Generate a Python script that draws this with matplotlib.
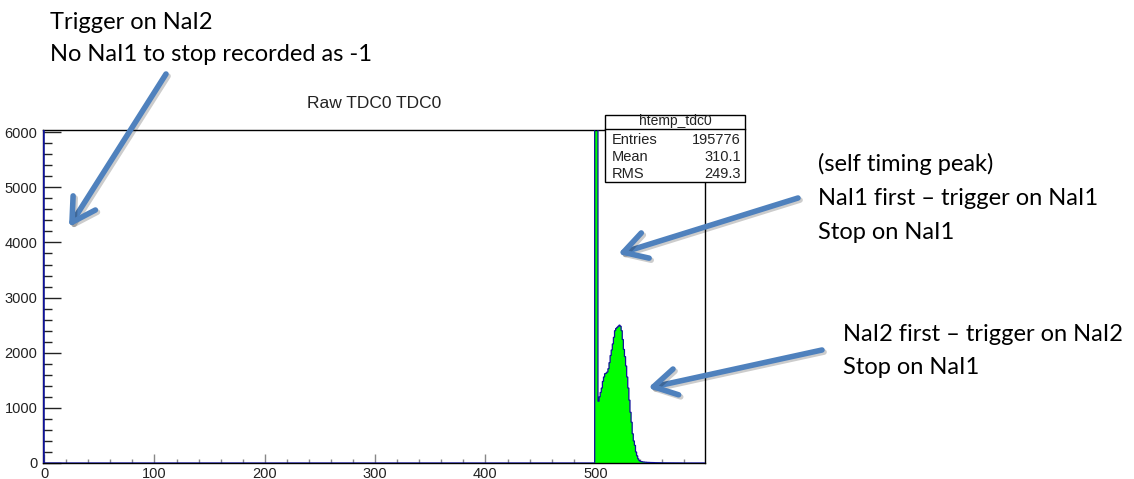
#!/usr/bin/env python3
"""
Raw TDC0 histogram (ROOT style) with slide annotations.
"""

import numpy as np
import matplotlib
matplotlib.use("Agg")
import matplotlib.pyplot as plt
import matplotlib.patheffects as pe
from matplotlib.patches import FancyArrowPatch, Rectangle
from matplotlib.ticker import MultipleLocator

# ---- data ----
# bin edges: 1 unit wide bins from -1 to 599
BIN_LOW = -1
BIN_HIGH = 599
# counts for the non-empty bins, keyed by bin low edge
underflow_bin = -1          # "no stop" entries recorded as -1
underflow_count = 77700
spike_bins = [499, 500, 501]     # self timing peak (off scale)
spike_counts = [21000, 22000, 19500]
peak_start = 502            # NaI2 first distribution
peak_counts = [1120, 1200, 1280, 1360, 1480, 1560, 1620, 1630, 1650, 1710,
               1820, 1950, 2050, 2160, 2280, 2400, 2440, 2460, 2480, 2500,
               2480, 2400, 2240, 2060, 1930, 1760, 1560, 1360, 1140, 920,
               740, 530, 400, 320, 200, 130, 75, 45, 30, 25,
               20, 18, 15, 14, 12, 10, 10, 9, 8, 8,
               7, 6, 6, 5, 5, 4, 4, 3, 3, 3,
               2, 3, 2, 2, 1, 2, 1, 1, 2, 1,
               1, 1, 2, 1, 1, 1, 0, 1, 1, 0,
               1, 0, 1, 0, 1]

stats_title = "htemp_tdc0"
stats_labels = ["Entries", "Mean", "RMS"]
stats_values = ["195776", "310.1", "249.3"]

plot_title = "Raw TDC0 TDC0"

# ---- build histogram ----
edges = np.arange(BIN_LOW, BIN_HIGH + 1)
counts = np.zeros(len(edges) - 1)
counts[underflow_bin - BIN_LOW] = underflow_count
for b, c in zip(spike_bins, spike_counts):
    counts[b - BIN_LOW] = c
for i, c in enumerate(peak_counts):
    counts[peak_start + i - BIN_LOW] = c

W, H = 1134, 479
fig = plt.figure(figsize=(W / 100, H / 100), dpi=100)


def fx(px):
    return px / W


def fy(py):
    return 1 - py / H


# axes frame in pixels: left 43, right 705, top 130, bottom 463
ax = fig.add_axes([fx(43), fy(463), fx(705) - fx(43), fy(130) - fy(463)])
ax.stairs(counts, edges, fill=True, color="#00ff00", zorder=2)
ax.stairs(counts, edges, color="#10109a", linewidth=0.9, zorder=3)

ax.set_xlim(BIN_LOW, BIN_HIGH)
ax.set_ylim(0, 6040)

ax.xaxis.set_major_locator(MultipleLocator(100))
ax.xaxis.set_minor_locator(MultipleLocator(20))
ax.yaxis.set_major_locator(MultipleLocator(1000))
ax.yaxis.set_minor_locator(MultipleLocator(200))

ax.tick_params(axis="y", which="major", direction="in", length=13, width=1,
               color="#222222", pad=4, labelsize=10.5)
ax.tick_params(axis="y", which="minor", direction="in", length=6.5, width=1,
               color="#222222")
ax.tick_params(axis="x", which="major", direction="in", length=6.5, width=1,
               color="#888888", pad=3, labelsize=10.5)
ax.tick_params(axis="x", which="minor", direction="in", length=3, width=1,
               color="#888888")
for lab in ax.get_xticklabels() + ax.get_yticklabels():
    lab.set_family("Liberation Sans")
    lab.set_color("#222222")
for sp in ax.spines.values():
    sp.set_color("black")
    sp.set_linewidth(1.0)

fig.text(fx(374), fy(103), plot_title, ha="center", va="center",
         family="Liberation Sans", fontsize=12.5, color="#222222")

# ---- stats box ----
bx0, bx1, by0, by1 = 605, 745, 115, 182
fig.patches.append(Rectangle((fx(bx0), fy(by1)), fx(bx1) - fx(bx0), fy(by0) - fy(by1),
                             transform=fig.transFigure, facecolor="white",
                             edgecolor="black", linewidth=1.0, zorder=5))
fig.add_artist(plt.Line2D([fx(bx0), fx(bx1)], [fy(129), fy(129)],
                          transform=fig.transFigure, color="black", linewidth=1.0, zorder=6))
fig.text(fx((bx0 + bx1) / 2), fy(125.5), stats_title, ha="center", va="baseline",
         family="Liberation Sans", fontsize=10, color="#222222", zorder=7)
for i, (lab, val) in enumerate(zip(stats_labels, stats_values)):
    yy = fy(140.5 + i * 16.5)
    fig.text(fx(612), yy, lab, ha="left", va="center", family="Liberation Sans",
             fontsize=10.5, color="#222222", zorder=7)
    fig.text(fx(741), yy, val, ha="right", va="center", family="Liberation Sans",
             fontsize=10.5, color="#222222", zorder=7)

# ---- slide annotations ----
note_font = dict(family="Lato", fontsize=17, color="black")
notes = [
    (50, [29, 61], ["Trigger on NaI2", "No NaI1 to stop recorded as -1"]),
    (818, [171, 205, 239], ["(self timing peak)", "NaI1 first \u2013 trigger on NaI1", "Stop on NaI1"]),
    (843, [341, 374], ["NaI2 first \u2013 trigger on NaI2", "Stop on NaI1"]),
]
for x0, ys, lines in notes:
    for yy, line in zip(ys, lines):
        fig.text(fx(x0), fy(yy), line, ha="left", va="baseline", **note_font)

arrows = [((166, 74), (69, 227)),
          ((798, 198), (618, 254)),
          ((822, 350), (648, 388))]
for (sx, sy), (tx, ty) in arrows:
    arr = FancyArrowPatch((fx(sx), fy(sy)), (fx(tx), fy(ty)),
                          transform=fig.transFigure,
                          arrowstyle="->,head_length=1.65,head_width=0.95",
                          mutation_scale=10, color="#4f81bd", linewidth=4.0,
                          capstyle="round", joinstyle="round",
                          shrinkA=0, shrinkB=0, zorder=8)
    arr.set_path_effects([pe.SimpleLineShadow(offset=(1.5, -1.5), shadow_color="black", alpha=0.2),
                          pe.Normal()])
    fig.patches.append(arr)

fig.savefig("out.png", dpi=100)
